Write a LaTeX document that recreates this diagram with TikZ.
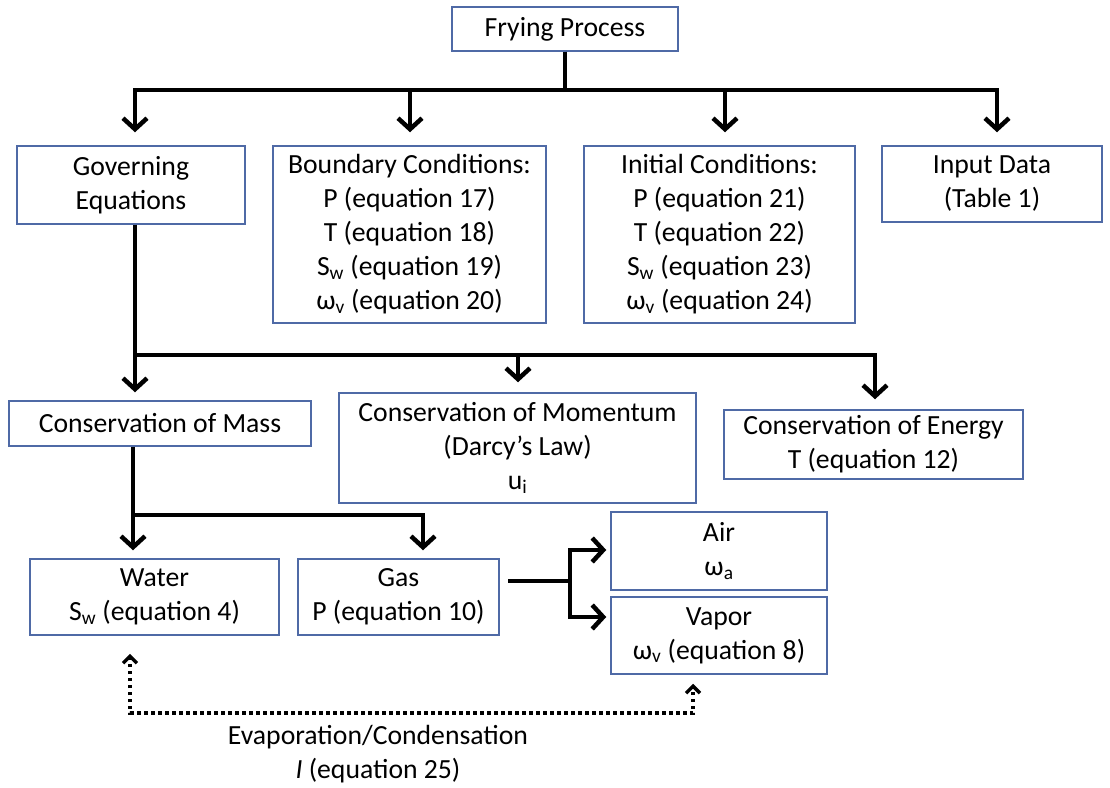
\documentclass[tikz,border=0pt]{standalone}
\usepackage{fontspec}
\setmainfont{Carlito}
\usetikzlibrary{arrows.meta}
\definecolor{boxblue}{HTML}{4F6AA6}
\begin{document}
\begin{tikzpicture}[x=1pt,y=-1pt,
  txt/.style={align=center,inner sep=0pt,font=\fontsize{27.7}{34}\selectfont},
  box/.style={txt,draw=boxblue,line width=1.5pt},
  conn/.style={line width=4.5pt,line join=miter,-{Straight Barb[length=11pt,width=24pt,line width=4.5pt]}},
  dotconn/.style={line width=4pt,dash pattern=on 3.5pt off 3.5pt,-{Straight Barb[length=7pt,width=14pt,line width=3.5pt]}}]
\useasboundingbox (0,0) rectangle (1110,787);
% boxes
\node[box,minimum width=226pt,minimum height=44pt] (fry) at (565,29) {Frying Process};
\node[box,minimum width=228pt,minimum height=78pt] (gov) at (131,185) {Governing\\Equations};
\node[box,minimum width=273pt,minimum height=177pt] (bc) at (409.5,234.5) {Boundary Conditions:\\P (equation 17)\\T (equation 18)\\S\textsubscript{w} (equation 19)\\ω\textsubscript{v} (equation 20)};
\node[box,minimum width=271pt,minimum height=177pt] (ic) at (719.5,234.5) {Initial Conditions:\\P (equation 21)\\T (equation 22)\\S\textsubscript{w} (equation 23)\\ω\textsubscript{v} (equation 24)};
\node[box,minimum width=220pt,minimum height=76pt] (inp) at (992,184) {Input Data\\(Table 1)};
\node[box,minimum width=302pt,minimum height=45pt] (mass) at (160,423.5) {Conservation of Mass};
\node[box,minimum width=357pt,minimum height=110pt] (mom) at (517.5,448) {Conservation of Momentum\\(Darcy’s Law)\\u\textsubscript{i}};
\node[box,minimum width=299pt,minimum height=69pt] (energy) at (873.5,444.5) {Conservation of Energy\\T (equation 12)};
\node[box,minimum width=249pt,minimum height=76pt] (water) at (154.5,597) {Water\\S\textsubscript{w} (equation 4)};
\node[box,minimum width=201pt,minimum height=76pt] (gas) at (398.5,597) {Gas\\P (equation 10)};
\node[box,minimum width=216pt,minimum height=78pt] (air) at (719,551) {Air\\ω\textsubscript{a}};
\node[box,minimum width=216pt,minimum height=77pt] (vapor) at (719,635.5) {Vapor\\ω\textsubscript{v} (equation 8)};
\node[txt] (evap) at (378,754) {Evaporation/Condensation\\\textit{I} (equation 25)};
% junction coordinates
\coordinate (b1) at (135,90);
\coordinate (b2) at (410,90);
\coordinate (b3) at (725,90);
\coordinate (b4) at (997,90);
\coordinate (c1) at (135,355);
\coordinate (c2) at (518,355);
\coordinate (c3) at (875,355);
\coordinate (d1) at (133,515);
\coordinate (d2) at (423,515);
\coordinate (g0) at (508,581);
\coordinate (g1) at (570,550);
\coordinate (g2) at (570,617);
\coordinate (e1) at (130,713);
\coordinate (e2) at (693,713);
% top bus
\draw[conn,shorten >=13pt] (fry.south) |- (b1) -- (gov.north -| b1);
\draw[conn,shorten >=13pt] (fry.south) |- (b2) -- (bc.north -| b2);
\draw[conn,shorten >=13pt] (fry.south) |- (b3) -- (ic.north -| b3);
\draw[conn,shorten >=13pt] (fry.south) |- (b4) -- (inp.north -| b4);
% second bus
\draw[conn,shorten >=8pt] (gov.south -| c1) -- (mass.north -| c1);
\draw[conn,shorten >=10pt] (gov.south -| c1) |- (c2) -- (mom.north -| c2);
\draw[conn,shorten >=10pt] (gov.south -| c1) |- (c3) -- (energy.north -| c3);
% third bus
\draw[conn,shorten >=8pt] (mass.south -| d1) -- (water.north -| d1);
\draw[conn,shorten >=8pt] (mass.south -| d1) |- (d2) -- (gas.north -| d2);
% gas split
\draw[conn,shorten >=4pt] (g0) -| (g1) -- (air.west |- g1);
\draw[conn,shorten >=4pt] (g0) -| (g2) -- (vapor.west |- g2);
% evaporation
\draw[dotconn,shorten >=18pt] (e2) -- (e1) -- (water.south -| e1);
\draw[dotconn,shorten >=9pt] (e1) -- (e2) -- (vapor.south -| e2);
\end{tikzpicture}
\end{document}
